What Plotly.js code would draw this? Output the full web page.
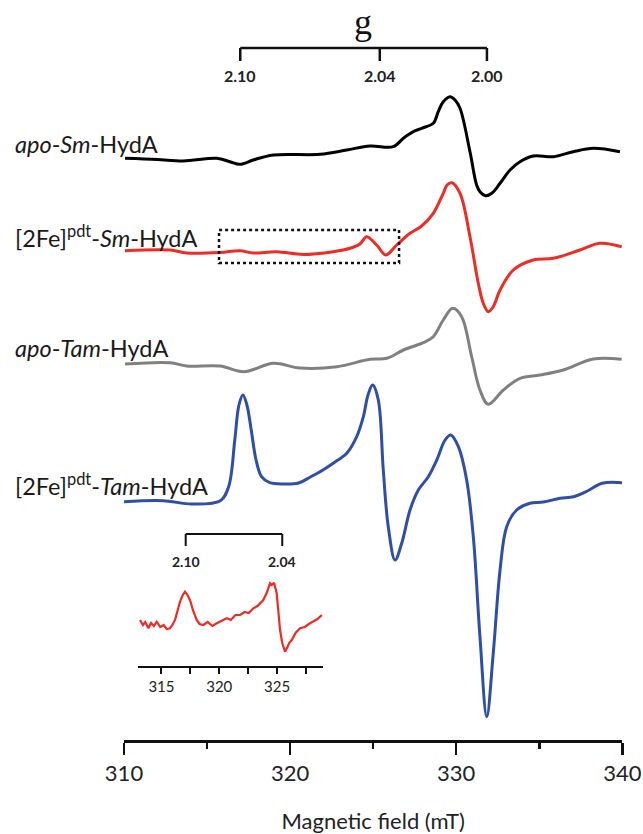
<!DOCTYPE html>
<html>
<head>
<meta charset="utf-8">
<script src="https://cdn.plot.ly/plotly-3.0.1.min.js"></script>
<style>html,body{margin:0;padding:0;background:#fff;}#chart{width:643px;height:834px;}</style>
</head>
<body>
<div id="chart"></div>
<script>
// ---- Data (magnetic field in mT, intensity in arbitrary units) ----
const blackField = [310.06,312.0,313.57,315.58,316.38,316.98,317.78,318.99,321.80,323.41,324.81,326.21,326.82,327.42,327.92,328.62,328.92,329.22,329.63,329.93,330.23,330.83,331.23,331.43,331.78,332.14,332.64,333.24,333.84,334.64,335.85,337.05,338.25,339.86];
const blackInt   = [-0.3,-1.5,-3,-0.3,-3.7,-6.3,-2,3,3.7,8,12,11.3,19.7,26.3,29.7,34.7,46.3,56.3,61.3,58,49.7,6.3,-27,-33.7,-37.7,-35.3,-25.3,-12,-3.7,2,1.3,6.3,9.7,6.3];

const redField = [310.06,312.77,313.77,315.78,316.98,317.78,319.19,320.79,322.60,323.61,324.2,324.61,325.21,325.76,326.42,327.22,327.92,328.62,329.22,329.45,329.73,330.23,330.83,331.33,331.63,331.93,332.23,332.64,333.44,334.64,335.85,337.45,338.66,339.96];
const redInt   = [-0.7,0,-3,-2.5,-0.7,-3,-1.7,-4.5,-1.7,1.7,6,13.3,5,-5,5,16.7,24,36.7,56.7,65,67.3,56.7,13.3,-33.3,-53.3,-61.7,-56.7,-40,-20,-10,-8.3,0,6.7,3.3];

const grayField = [310.06,312.77,313.77,315.78,317.22,318.99,320.60,322.81,324.81,325.82,326.82,328.02,328.62,329.22,329.79,330.33,330.93,331.43,331.93,332.84,333.84,335.05,336.45,338.25,339.96];
const grayInt   = [0,1.3,-2,-2,-7.7,0.7,-4,-2.7,4.7,5.7,14,21.3,27.3,44,55.7,47.3,7.3,-26,-40.3,-26,-14.3,-11,-6,5,4.7];

const blueField = [310.00,312.35,314.08,315.80,316.30,316.67,316.92,317.16,317.40,317.66,317.95,318.28,318.77,319.60,320.51,321.25,321.98,322.70,323.41,324.01,324.41,324.69,324.97,325.31,325.61,325.91,326.32,326.72,327.22,327.72,328.32,328.83,329.33,329.67,330.13,330.63,331.03,331.43,331.84,332.23,332.64,333.04,333.64,334.44,335.24,336.25,337.06,337.90,338.78,339.98];
const blueInt   = [-0.7,0.3,-3,0.3,14.3,61,96,106,96,71,41,24.3,18.3,17,18,24.3,31,39,47.7,64.3,84.3,106,116,101,31,-25.7,-59,-42.3,-9,11,24.3,41,61,66,54.3,21,-35.7,-135.7,-215.7,-152.3,-69,-25.7,-9,-2.3,-1,2.7,4.3,10,17.7,18.3];

// inset: zoom of the [2Fe]pdt-Sm-HydA spectrum
const insetField = [313.15,313.4,313.6,313.87,314.1,314.35,314.59,314.9,315.2,315.45,315.74,315.95,316.17,316.4,316.61,316.85,317.04,317.25,317.47,317.75,318.05,318.3,318.62,319.0,319.4,319.78,320.2,320.65,321.0,321.4,321.80,322.2,322.55,322.95,323.3,323.55,323.81,324.1,324.39,324.55,324.74,324.97,325.1,325.26,325.45,325.69,325.9,326.05,326.27,326.6,326.99,327.4,327.85,328.2,328.5,328.87];
const insetInt   = [5,0,3,-3.3,2,-1,3.3,-2,0,-4,-3.3,0,5,14,23.3,30,33.3,30,25,14,5,1,0,3,-1,1.7,4,6.7,5,10,10,13,12,16.7,19,22,25,32,41.7,40,42.3,31.7,12,-5,-18,-26.7,-22,-18,-15,-8,-3.3,-2,1.7,4,6,10];

const seriesNames = ['apo-Sm-HydA','[2Fe]pdt-Sm-HydA','apo-Tam-HydA','[2Fe]pdt-Tam-HydA'];
const seriesLabels = ['<i>apo</i>-<i>Sm</i>-HydA','[2Fe]<sup>pdt</sup>-<i>Sm</i>-HydA','<i>apo</i>-<i>Tam</i>-HydA','[2Fe]<sup>pdt</sup>-<i>Tam</i>-HydA'];
const seriesColors = ['#000000','#ee2b24','#808080','#2f4fa6'];
const offsets = [582, 490, 376, 239];   // vertical stacking of spectra

const xTicks = [310,320,330,340];
const xMinorTicks = [315,325,335];
const insetTicks = [315,320,325];
const insetMinorTicks = [317.5,322.5,327.5];

const gLabels = ['2.10','2.04','2.00'];
const gFields = [317.0, 325.4, 331.85];
const gTitleField = 324.4;
const insetGLabels = ['2.10','2.04'];
const insetGFields = [317.1, 325.45];
// dotted box region (field, mT) on the [2Fe]pdt-Sm-HydA trace
const boxField = [315.72, 326.56];

// ---- Build traces ----
const fields = [blackField, redField, grayField, blueField];
const ints = [blackInt, redInt, grayInt, blueInt];
const traces = fields.map((f, i) => ({
  type: 'scatter', mode: 'lines', name: seriesNames[i],
  x: f, y: ints[i].map(v => v + offsets[i]),
  line: {color: seriesColors[i], width: 3, shape: 'spline', smoothing: 1.0},
  hoverinfo: 'skip', showlegend: false, xaxis: 'x', yaxis: 'y'
}));
const insetBase = 40.7;
traces.push({
  type: 'scatter', mode: 'lines', name: 'inset',
  x: insetField, y: insetInt.map(v => v + insetBase),
  line: {color: seriesColors[1], width: 2.2},
  hoverinfo: 'skip', showlegend: false, xaxis: 'x2', yaxis: 'y2'
});

const FONT = 'Lato, "Open Sans", sans-serif';
const shapes = [];
const annotations = [];

// g-scale bracket (top)
const gY = 692, gTick = 13;
shapes.push({type:'line', xref:'x', yref:'y', x0:gFields[0], x1:gFields[gFields.length-1], y0:gY, y1:gY, line:{color:'#111', width:2.5}});
gFields.forEach((g, i) => {
  shapes.push({type:'line', xref:'x', yref:'y', x0:g, x1:g, y0:gY, y1:gY-gTick, line:{color:'#111', width:2.5}});
  annotations.push({xref:'x', yref:'y', x:g, y:gY-27, text:'<b>'+gLabels[i]+'</b>', showarrow:false, font:{family:FONT, size:16, color:'#222'}});
});
annotations.push({xref:'x', yref:'y', x:gTitleField, y:gY+4, yanchor:'bottom', text:'g', showarrow:false, font:{family:'"Liberation Serif", "DejaVu Serif", serif', size:36, color:'#111'}});

// dotted box
shapes.push({type:'rect', xref:'x', yref:'y', x0:boxField[0], x1:boxField[1], y0:offsets[1]-13, y1:offsets[1]+20, line:{color:'#111', width:2.5, dash:'dot'}});

// inset g bracket
const igY = 131.7;
shapes.push({type:'line', xref:'x2', yref:'y2', x0:insetGFields[0], x1:insetGFields[1], y0:igY, y1:igY, line:{color:'#111', width:2}});
insetGFields.forEach((g, i) => {
  shapes.push({type:'line', xref:'x2', yref:'y2', x0:g, x1:g, y0:igY, y1:igY-12, line:{color:'#111', width:2}});
  annotations.push({xref:'x2', yref:'y2', x:g, y:igY-27, text:'<b>'+insetGLabels[i]+'</b>', showarrow:false, font:{family:FONT, size:14, color:'#222'}});
});

// series labels
const labelY = [596, 504, 392, 256];
seriesLabels.forEach((t, i) => {
  annotations.push({xref:'paper', yref:'y', x:13/643, y:labelY[i], xanchor:'left', yanchor:'middle', text:t, showarrow:false, font:{family:FONT, size:23.5, color:'#1a1a1a'}});
});

const layout = {
  width: 643, height: 834, autosize: false,
  margin: {l:0, r:0, t:0, b:0, pad:0},
  paper_bgcolor: '#fff', plot_bgcolor: 'rgba(0,0,0,0)',
  showlegend: false,
  font: {family: FONT, color: '#222'},
  xaxis: {
    domain: [124/643, 622.3/643], range: [310, 340], anchor: 'y',
    showline: true, linecolor: '#111', linewidth: 2.5, mirror: false,
    ticks: 'outside', ticklen: 12, tickwidth: 2.5, tickcolor: '#111',
    tickmode: 'array', tickvals: xTicks, ticktext: xTicks.map(String),
    minor: {tickmode: 'array', tickvals: xMinorTicks, ticks: 'outside', ticklen: 6, tickwidth: 2.5, tickcolor: '#111', showgrid: false},
    tickfont: {family: FONT, size: 22, color: '#222'},
    showgrid: false, zeroline: false, automargin: false,
    title: {text: 'Magnetic field (mT)', font: {family: FONT, size: 22, color: '#222'}, standoff: 34}
  },
  yaxis: {
    domain: [1 - 740/834, 1], range: [0, 740], anchor: 'x',
    visible: false, showgrid: false, zeroline: false, fixedrange: true
  },
  xaxis2: {
    domain: [138.3/643, 323.3/643], range: [313, 329], anchor: 'y2',
    showline: true, linecolor: '#111', linewidth: 2,
    ticks: 'outside', ticklen: 6, tickwidth: 2, tickcolor: '#111',
    tickmode: 'array', tickvals: insetTicks, ticktext: insetTicks.map(String),
    minor: {tickmode: 'array', tickvals: insetMinorTicks, ticks: 'outside', ticklen: 6, tickwidth: 2, tickcolor: '#111', showgrid: false},
    tickfont: {family: FONT, size: 15, color: '#222'},
    showgrid: false, zeroline: false, automargin: false
  },
  yaxis2: {
    domain: [1 - 665.7/834, 1 - 520/834], range: [0, 145.7], anchor: 'x2',
    visible: false, showgrid: false, zeroline: false
  },
  shapes: shapes,
  annotations: annotations
};

Plotly.newPlot('chart', traces, layout, {staticPlot: true, displayModeBar: false});
</script>
</body>
</html>
